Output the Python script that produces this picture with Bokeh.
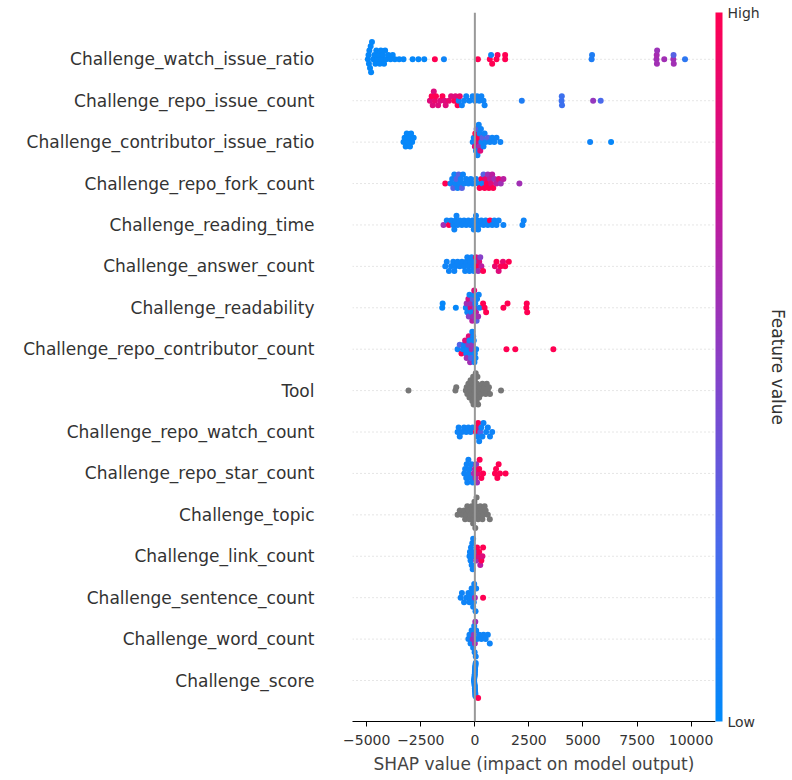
import numpy as np
from bokeh.plotting import figure
from bokeh.models import (Span, LinearColorMapper, ColorBar, FixedTicker, LinearAxis,
                          ColumnDataSource, Range1d)
from bokeh.embed import file_html
from bokeh.resources import INLINE

features = ["Challenge_watch_issue_ratio", "Challenge_repo_issue_count",
            "Challenge_contributor_issue_ratio", "Challenge_repo_fork_count",
            "Challenge_reading_time", "Challenge_answer_count", "Challenge_readability",
            "Challenge_repo_contributor_count", "Tool", "Challenge_repo_watch_count",
            "Challenge_repo_star_count", "Challenge_topic", "Challenge_link_count",
            "Challenge_sentence_count", "Challenge_word_count", "Challenge_score"]

shap_watch_issue = [-4950, -4920, -4900, -4880, -4850, -4820, -4800, -4760, -4700, -4650, -4600, -4560,
                    -4500, -4450, -4400, -4350, -4300, -4250, -4200, -4150, -4100, -4000, -3900, -3800,
                    -3700, -3500, -3300, -2880, -2610, -2340, -1850, -1430, 140, 690, 750, 800, 1000,
                    1050, 1400, 1400, 5400, 5420, 8400, 8410, 8420, 8430, 8760, 9180, 9190, 9200, 9720]
feat_watch_issue = [0.02] * 30 + [1.0, 0.05, 1.0, 1.0, 0.05, 1.0, 1.0, 0.95, 1.0, 1.0, 0.1, 0.1,
                                  0.6, 0.62, 0.6, 0.58, 0.6, 0.6, 0.3, 0.6, 0.15]

shap_issue_count = [-2080, -2000, -1950, -1900, -1850, -1800, -1700, -1600, -1500, -1400, -1350, -1200,
                    -1100, -950, -900, -800, -750, -700, -600, -500, -400, -250, -100, 0, 100, 200, 300,
                    400, 450, 2170, 4010, 4020, 4030, 5470, 5820]
feat_issue_count = [0.85, 1.0, 0.85, 0.85, 0.9, 1.0, 0.85, 0.85, 1.0, 0.85, 0.85, 0.9, 0.85, 1.0,
                    0.85, 1.0, 0.05, 0.9, 0.05, 0.05, 0.05, 0.05, 0.05, 0.05, 0.05, 0.05, 0.05, 0.05,
                    0.05, 0.1, 0.2, 0.2, 0.2, 0.55, 0.25]

shap_contrib_issue = [-3300, -3250, -3200, -3150, -3100, -3050, -3000, -2950, -2900, -2830, -100, -50,
                      0, 20, 50, 80, 100, 120, 150, 180, 200, 220, 250, 280, 300, 350, 400, 450, 500,
                      600, 700, 800, 900, 1000, 1180, 5330, 6300]
feat_contrib_issue = [0.02] * 10 + [0.05, 0.05, 0.85, 1.0, 0.05, 0.3, 0.85, 0.05, 1.0, 0.05, 0.6,
                                    0.05, 0.85, 0.05, 0.05, 0.3, 0.05, 0.05, 0.05, 0.3, 0.05, 0.05,
                                    0.05, 0.05, 0.05, 0.05, 0.02]

shap_fork = [-1370, -1130, -1050, -1000, -950, -900, -850, -800, -750, -700, -650, -600, -550, -500,
             -400, -300, -190, -100, 50, 150, 220, 300, 350, 400, 450, 500, 550, 600, 650, 700, 750,
             800, 850, 900, 1000, 1100, 1200, 1320, 2060]
feat_fork = [1.0, 0.05, 0.05, 0.3, 0.05, 0.05, 0.3, 0.05, 0.3, 0.05, 0.05, 0.3, 0.05, 0.05, 0.05,
             0.05, 0.05, 0.05, 0.05, 0.05, 1.0, 1.0, 0.05, 0.3, 1.0, 0.9, 1.0, 0.6, 1.0, 0.7, 0.85,
             0.7, 1.0, 0.6, 0.7, 0.85, 0.6, 0.7, 0.6]

shap_reading = [-1450, -1300, -1200, -1100, -1000, -950, -900, -850, -800, -700, -600, -500, -400,
                -300, -200, -100, -50, 0, 50, 100, 150, 200, 300, 400, 500, 600, 700, 800, 900, 1000,
                1100, 1320, 2200, 2260]
feat_reading = [0.6, 0.05, 1.0] + [0.05] * 23 + [1.0] + [0.05] * 7

shap_answer = [-1370, -1300, -1200, -1100, -1000, -950, -900, -800, -700, -600, -500, -450, -400, -350,
               -300, -250, -200, -150, -100, -50, 0, 50, 100, 150, 200, 250, 300, 380, 930, 1000, 1100,
               1200, 1300, 1400, 1570]
feat_answer = [0.05] * 21 + [0.85, 1.0, 0.6, 0.85, 0.5, 0.7, 1.0, 0.9, 1.0, 0.85, 1.0, 0.9, 1.0, 1.0]

shap_readability = [-1510, -1490, -880, -420, -380, -350, -300, -280, -250, -200, -180, -150, -120,
                    -100, -80, -50, -30, 0, 20, 50, 80, 100, 150, 180, 220, 380, 450, 520, 1320, 1510,
                    2380, 2400, 2420]
feat_readability = [0.02, 0.02, 0.02, 0.05, 0.6, 0.05, 0.8, 0.5, 0.05, 0.85, 0.6, 0.05, 0.7, 0.3,
                    0.6, 0.05, 0.85, 0.5, 0.05, 0.7, 0.3, 0.05, 0.6, 0.05, 0.05, 1.0, 1.0, 1.0, 1.0,
                    1.0, 1.0, 1.0, 1.0]

shap_contributor = [-800, -700, -620, -550, -500, -450, -400, -380, -350, -300, -280, -250, -220,
                    -200, -180, -150, -120, -100, -80, -50, -20, 0, 30, 60, 1460, 1870, 3630]
feat_contributor = [0.05, 0.3, 1.0, 0.05, 0.05, 0.85, 0.05, 0.6, 0.05, 0.5, 0.85, 0.05, 0.6, 0.05,
                    0.3, 0.6, 0.05, 0.55, 0.05, 0.05, 0.05, 0.05, 0.05, 0.05, 1.0, 1.0, 1.0]

shap_tool = [-3070, -900, -860, -420, -380, -350, -300, -250, -220, -200, -180, -150, -120, -100, -80,
             -60, -40, -20, 0, 20, 40, 60, 80, 100, 120, 150, 180, 200, 250, 300, 350, 400, 450, 500,
             550, 600, 650, 700, 1210]

shap_watch = [-800, -750, -700, -600, -500, -400, -300, -200, -100, 50, 100, 120, 150, 200, 250, 300,
              350, 400, 520, 600, 700, 800]
feat_watch = [0.05] * 9 + [1.0, 0.9, 0.05, 1.0, 0.05, 0.3] + [0.05] * 7

shap_star = [-490, -450, -400, -380, -350, -300, -280, -250, -200, -150, -100, -50, 0, 30, 60, 100,
             150, 200, 220, 300, 380, 930, 980, 1040, 1100, 1160, 1420]
feat_star = [0.05] * 11 + [0.6, 0.6, 0.6, 0.55, 0.6, 0.85, 1.0, 1.0, 1.0, 1.0, 1.0, 1.0, 1.0, 1.0,
                           1.0, 1.0]

shap_topic = [-800, -700, -600, -500, -450, -400, -350, -300, -250, -200, -150, -100, -80, -50, -20,
              0, 20, 50, 80, 100, 150, 200, 250, 300, 350, 400, 450, 500, 600, 690]

shap_link = [-250, -230, -200, -180, -150, -120, -100, -80, -50, -20, 60, 100, 150, 200, 250, 300,
             350, 380]
feat_link = [0.05] * 10 + [0.6, 1.0, 0.85, 1.0, 0.7, 1.0, 0.85, 1.0]

shap_sentence = [-660, -600, -500, -400, -300, -250, -200, -150, -100, -80, -50, -30, 0, 30, 60, 380]
feat_sentence = [0.05] * 12 + [0.6, 0.05, 0.05, 1.0]

shap_word = [-300, -250, -200, -150, -100, -80, -50, -30, -10, 0, 20, 40, 60, 100, 200, 300, 400,
             500, 600, 690]
feat_word = [0.05, 0.05, 0.05, 0.05, 0.6, 0.05, 0.55, 0.05, 0.05, 0.6, 0.6] + [0.05] * 9

shap_score = [-40, -30, -20, -10, -5, 0, 0, 0, 5, 10, 10, 20, 20, 30, 30, 40, -30, -20, -10, 0, 10,
              20, 150]
feat_score = [0.05] * 22 + [1.0]

rows = [(shap_watch_issue, feat_watch_issue), (shap_issue_count, feat_issue_count),
        (shap_contrib_issue, feat_contrib_issue), (shap_fork, feat_fork),
        (shap_reading, feat_reading), (shap_answer, feat_answer),
        (shap_readability, feat_readability), (shap_contributor, feat_contributor),
        (shap_tool, None), (shap_watch, feat_watch), (shap_star, feat_star),
        (shap_topic, None), (shap_link, feat_link), (shap_sentence, feat_sentence),
        (shap_word, feat_word), (shap_score, feat_score)]

# shap red_blue colormap approximation
stops = [(0.0, (0, 138, 250)), (0.25, (75, 106, 235)), (0.5, (135, 65, 200)),
         (0.75, (200, 20, 150)), (1.0, (255, 0, 82))]
def cmap(v):
    for (a, ca), (b, cb) in zip(stops[:-1], stops[1:]):
        if v <= b:
            t = (v - a) / (b - a)
            c = [int(round(ca[i] + t * (cb[i] - ca[i]))) for i in range(3)]
            return "#%02x%02x%02x" % tuple(c)
    return "#ff0052"
palette = [cmap(i / 255) for i in range(256)]

def swarm(xs, dx=200, step=0.11, maxspread=0.42):
    order = np.argsort(xs)
    placed = []
    offs = np.zeros(len(xs))
    for i in order:
        k = 0
        while True:
            o = 0 if k == 0 else ((k + 1) // 2) * (1 if k % 2 else -1)
            if all(not (abs(xs[i] - px) < dx and po == o) for px, po in placed):
                break
            k += 1
        placed.append((xs[i], o))
        offs[i] = o
    m = np.abs(offs).max() if len(offs) else 0
    s = step if m * step <= maxspread else maxspread / m
    return offs * s

xs, ys, cs = [], [], []
n = len(features)
for idx, (sv, fv) in enumerate(rows):
    yc = n - 1 - idx
    offs = swarm(sv)
    for j, x in enumerate(sv):
        xs.append(x)
        ys.append(yc + offs[j])
        cs.append("#777777" if fv is None else cmap(fv[j]))

p = figure(width=790, height=776, output_backend="svg", toolbar_location=None,
           x_range=Range1d(-5660, 11130), y_range=Range1d(-0.99, n - 1 + 1.13),
           min_border_left=352, min_border_top=12, min_border_bottom=54, min_border_right=10)
p.outline_line_color = None
p.grid.visible = False

for i in range(n):
    p.line([-5660, 11130], [i, i], line_color="#cccccc", line_dash="1 3", line_width=1)
p.add_layout(Span(location=0, dimension="height", line_color="#999999", line_width=2))

p.scatter(xs, ys, size=6, color=cs, line_color=None)

p.yaxis.ticker = FixedTicker(ticks=list(range(n)))
p.yaxis.major_label_overrides = {n - 1 - i: f for i, f in enumerate(features)}
p.yaxis.axis_line_color = None
p.yaxis.major_tick_line_color = None
p.yaxis.minor_tick_line_color = None
p.yaxis.major_label_text_font_size = "17px"
p.yaxis.major_label_text_color = "#333333"
p.yaxis.major_label_text_font = "DejaVu Sans"
p.yaxis.major_label_standoff = 32

p.xaxis.ticker = FixedTicker(ticks=[-5000, -2500, 0, 2500, 5000, 7500, 10000])
p.xaxis.minor_tick_line_color = None
p.xaxis.major_tick_in = 0
p.xaxis.major_tick_out = 5
p.xaxis.major_label_standoff = 8
p.xaxis.axis_label = "SHAP value (impact on model output)"
p.xaxis.axis_label_text_font_style = "normal"
p.xaxis.axis_label_text_font_size = "17px"
p.xaxis.axis_label_text_font = "DejaVu Sans"
p.xaxis.axis_label_standoff = 6
p.xaxis.major_label_text_font_size = "14px"
p.xaxis.major_label_text_font = "DejaVu Sans"
p.xaxis.major_label_text_color = "#333333"

mapper = LinearColorMapper(palette=palette, low=0, high=1)
cb = ColorBar(color_mapper=mapper, width=7, ticker=FixedTicker(ticks=[0, 1]),
              major_label_overrides={0: "Low", 1: "High"}, major_tick_line_color=None,
              major_label_text_font_size="14px", major_label_text_font="DejaVu Sans",
              major_label_text_color="#333333", padding=0, margin=9, bar_line_color=None)
p.add_layout(cb, "right")

lab = LinearAxis(axis_label="Feature value", axis_line_color=None, major_tick_line_color=None,
                 minor_tick_line_color=None, major_label_text_font_size="0px",
                 axis_label_text_font_size="17px", axis_label_text_font="DejaVu Sans",
                 axis_label_text_font_style="normal", axis_label_text_color="#333333",
                 ticker=FixedTicker(ticks=[]))
p.add_layout(lab, "right")

open("out.html", "w").write(file_html(p, INLINE))
